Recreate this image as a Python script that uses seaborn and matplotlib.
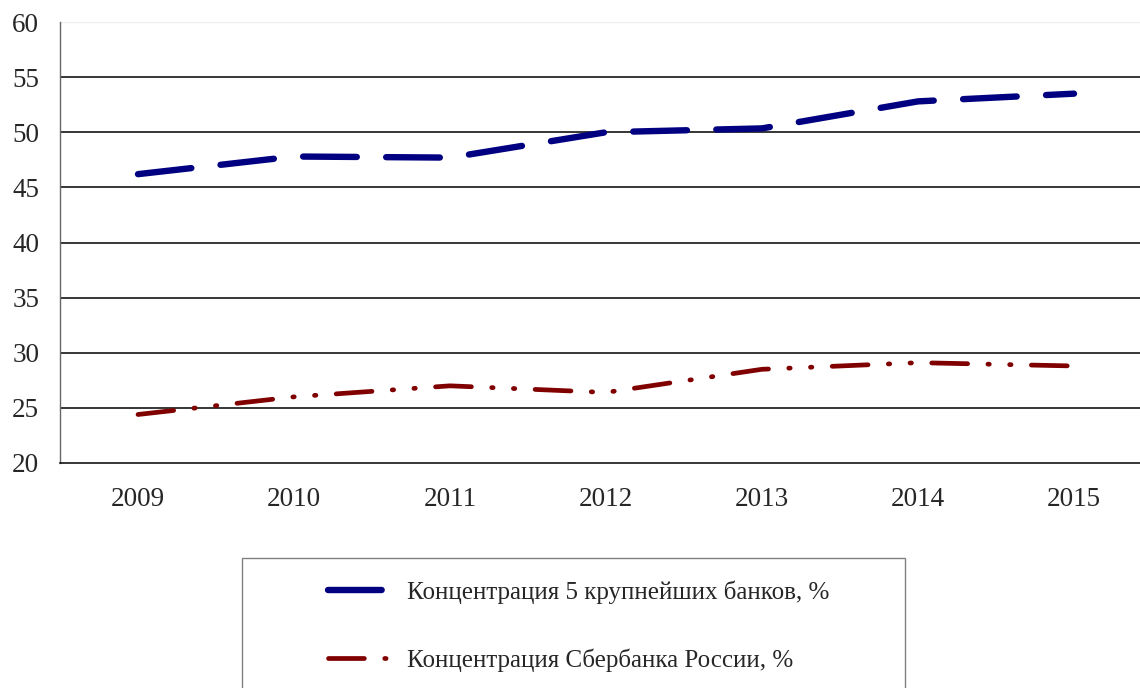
import matplotlib
matplotlib.use("Agg")
import matplotlib.pyplot as plt
import seaborn as sns
import pandas as pd
from matplotlib.patches import Rectangle
from matplotlib.ticker import MultipleLocator

# data
years = [2009, 2010, 2011, 2012, 2013, 2014, 2015]
top5 = [46.2, 47.8, 47.7, 50.0, 50.35, 52.8, 53.5]
sber = [24.4, 26.0, 27.0, 26.4, 28.5, 29.1, 28.8]
labels = ["Концентрация 5 крупнейших банков, %", "Концентрация Сбербанка России, %"]

df = pd.DataFrame({"year": years, "top5": top5, "sber": sber})

sns.set_style("white")
plt.rcParams["font.family"] = ["Liberation Serif", "DejaVu Serif"]

W, H = 1140, 688
fig = plt.figure(figsize=(W / 100, H / 100), dpi=100)
ax = fig.add_axes([60 / W, 1 - 463 / H, 1092 / W, 441 / H])

sns.lineplot(data=df, x="year", y="top5", ax=ax, color="#000080", lw=4.6,
             label=labels[0], legend=False)
sns.lineplot(data=df, x="year", y="sber", ax=ax, color="#800000", lw=3.4,
             label=labels[1], legend=False)

l1, l2 = ax.get_lines()[-2:]
l1.set_dashes((8.4, 4.6))
l1.set_dash_capstyle("round")
l2.set_dashes((7.6, 4.3, 0.3, 4.3, 0.3, 4.3))
l2.set_dash_capstyle("round")

ax.set_xlim(2008.5, 2015.5)
ax.set_ylim(20, 60)
ax.yaxis.set_major_locator(MultipleLocator(5))
for v in range(25, 60, 5):
    ax.axhline(v, color="black", lw=1.1, zorder=0)
ax.axhline(60, color="#eeeeee", lw=1, zorder=0)

ax.set_xticks(years)
ax.set_xticks([y + 0.5 for y in years[:-1]] + [2008.5], minor=True)
ax.tick_params(axis="x", which="major", length=0, pad=17, labelsize=19.5)
ax.tick_params(axis="x", which="minor", length=7, width=1, color="black", direction="out")
ax.tick_params(axis="y", length=7, width=1, color="#555555", direction="out", pad=8, labelsize=19.5)
ax.set_xlabel("")
ax.set_ylabel("")

for s in ["top", "right"]:
    ax.spines[s].set_visible(False)
ax.spines["left"].set_color("#666666")
ax.spines["bottom"].set_color("black")
ax.spines["left"].set_linewidth(1)
ax.spines["bottom"].set_linewidth(1.1)

# legend box (runs off the bottom of the figure)
fig.patches.append(Rectangle((242 / W, -0.05), 663 / W, 0.05 + 1 - 558 / H,
                             transform=fig.transFigure, fill=False,
                             edgecolor="#808080", lw=1))
fig.legend(handles=[l1, l2], labels=labels, loc="upper left",
           bbox_to_anchor=(328 / W, 1 - 580 / H), frameon=False, fontsize=18,
           handlelength=2.4, handletextpad=0.75, labelspacing=1.8,
           borderpad=0, borderaxespad=0)

fig.savefig("out.png", dpi=100)
